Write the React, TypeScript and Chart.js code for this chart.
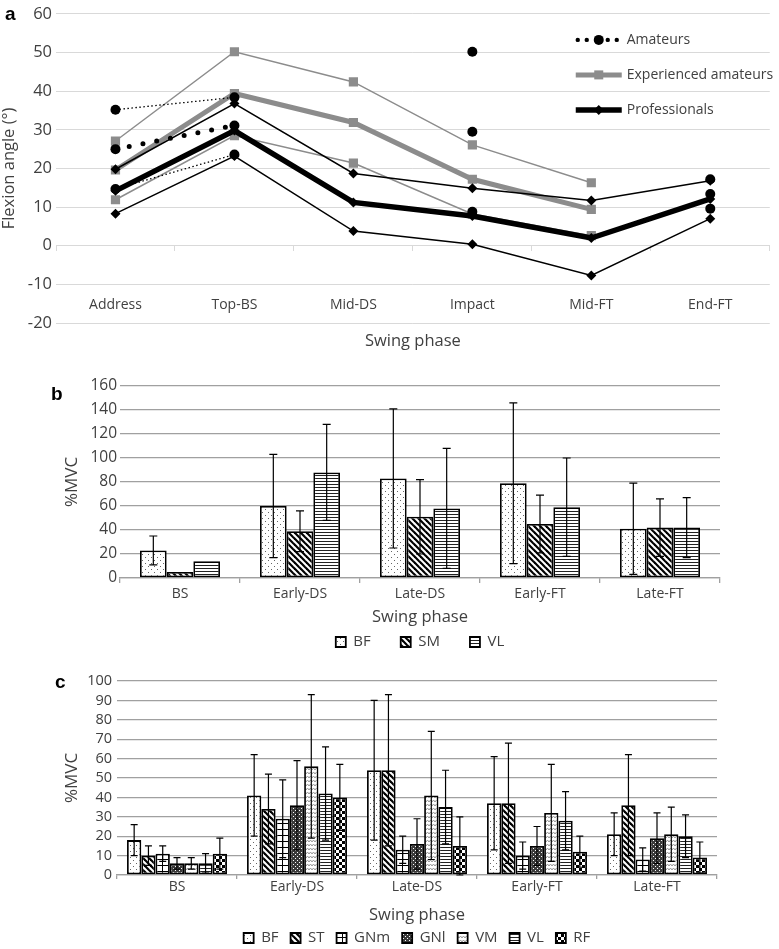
import React, { useEffect, useRef } from 'react';
import { Chart, registerables } from 'chart.js';

Chart.register(...registerables);

const FONT = '"Open Sans", sans-serif';
const TEXT = '#404040';
Chart.defaults.font.family = FONT;
Chart.defaults.color = TEXT;

// ---------- Panel a: knee flexion angle ----------
const phasesA = ['Address', 'Top-BS', 'Mid-DS', 'Impact', 'Mid-FT', 'End-FT'];
const amateurMean = [25, 31.1, null, 29.5, null, 13.4];
const amateurUpper = [35.2, 38.4, null, 50.2, null, 17.2];
const amateurLower = [14.7, 23.6, null, 8.8, null, 9.6];
const proMean = [14.2, 29.8, 11.2, 7.7, 2.0, 12.1];
const proUpper = [19.8, 36.8, 18.7, 14.9, 11.7, 16.8];
const proLower = [8.3, 23.2, 3.8, 0.4, -7.7, 7.0];
const expMean = [19.6, 39.4, 31.9, 17.2, 9.4, null];
const expUpper = [27.1, 50.2, 42.4, 26.1, 16.3, null];
const expLower = [11.9, 28.5, 21.4, 8.2, 2.6, null];
const yTicksA = { min: -20, max: 60, step: 10 };

// ---------- Panel b: %MVC (BF, SM, VL) ----------
const phasesB = ['BS', 'Early-DS', 'Late-DS', 'Early-FT', 'Late-FT'];
const bfB = [23, 60, 83, 79, 41];
const bfSdB = [12, 43, 58, 67, 38];
const smB = [5, 39, 51, 45, 42];
const smSdB = [null, 17, 31, 24, 24];
const vlB = [14, 88, 58, 59, 42];
const vlSdB = [null, 40, 50, 41, 25];
const yTicksB = { min: 0, max: 160, step: 20 };

// ---------- Panel c: %MVC (7 muscles) ----------
const phasesC = ['BS', 'Early-DS', 'Late-DS', 'Early-FT', 'Late-FT'];
const bfC = [18, 41, 54, 37, 21];
const bfSdC = [8, 21, 36, 24, 11];
const stC = [10, 34, 54, 37, 36];
const stSdC = [5, 18, 39, 31, 26];
const gnmC = [11, 29, 13, 10, 8];
const gnmSdC = [4, 20, 7, 7, 6];
const gnlC = [6, 36, 16, 15, 19];
const gnlSdC = [3, 23, 13, 10, 13];
const vmC = [6, 56, 41, 32, 21];
const vmSdC = [3, 37, 33, 25, 14];
const vlC = [6, 42, 35, 28, 20];
const vlSdC = [5, 24, 19, 15, 11];
const rfC = [11, 40, 15, 12, 9];
const rfSdC = [8, 17, 15, 8, 8];
const yTicksC = { min: 0, max: 100, step: 10 };

// ---------- patterns ----------
function makePatterns(ctx: CanvasRenderingContext2D) {
  const mk = (w: number, h: number, draw: (g: CanvasRenderingContext2D) => void) => {
    const c = document.createElement('canvas');
    c.width = w; c.height = h;
    const g = c.getContext('2d')!;
    g.fillStyle = '#fff';
    g.fillRect(0, 0, w, h);
    draw(g);
    return ctx.createPattern(c, 'repeat')!;
  };
  return {
    dots: mk(6, 6, (g) => { g.fillStyle = '#666'; g.fillRect(1, 1, 1, 1); g.fillRect(4, 4, 1, 1); }),
    diag: mk(6, 6, (g) => {
      g.strokeStyle = '#000'; g.lineWidth = 2.2;
      for (let k = -1; k <= 1; k++) { g.beginPath(); g.moveTo(-1, -1 + 6 * k); g.lineTo(7, 7 + 6 * k); g.stroke(); }
    }),
    hlines: mk(4, 3, (g) => { g.fillStyle = '#222'; g.fillRect(0, 0, 4, 1); }),
    grid: mk(6, 6, (g) => { g.fillStyle = '#000'; g.fillRect(0, 0, 6, 1); g.fillRect(0, 0, 1, 6); }),
    dark: mk(4, 4, (g) => { g.fillStyle = '#3a3a3a'; g.fillRect(0, 0, 4, 4); g.fillStyle = '#fff'; g.fillRect(1, 1, 1, 1); g.fillRect(3, 3, 1, 1); }),
    wave: mk(6, 4, (g) => {
      g.strokeStyle = '#999'; g.lineWidth = 1;
      g.beginPath(); g.moveTo(0, 3); g.lineTo(1.5, 1); g.lineTo(3, 3); g.lineTo(4.5, 1); g.lineTo(6, 3); g.stroke();
    }),
    checker: mk(6, 6, (g) => { g.fillStyle = '#000'; g.fillRect(0, 0, 3, 3); g.fillRect(3, 3, 3, 3); }),
  };
}

// ---------- plugins ----------
const errorBarPlugin = {
  id: 'errorBars',
  afterDatasetsDraw(chart: any) {
    const { ctx } = chart;
    const y = chart.scales.y;
    chart.data.datasets.forEach((ds: any, i: number) => {
      const sd = ds.errors;
      if (!sd) return;
      const meta = chart.getDatasetMeta(i);
      meta.data.forEach((el: any, j: number) => {
        const e = sd[j];
        if (e == null) return;
        const v = ds.data[j];
        const yt = y.getPixelForValue(v + e);
        const yb = y.getPixelForValue(Math.max(0, v - e));
        const cap = ds.capHalf || 4;
        ctx.save();
        ctx.strokeStyle = '#000';
        ctx.lineWidth = 1.2;
        ctx.beginPath();
        ctx.moveTo(el.x, yt); ctx.lineTo(el.x, yb);
        ctx.moveTo(el.x - cap, yt); ctx.lineTo(el.x + cap, yt);
        ctx.moveTo(el.x - cap, yb); ctx.lineTo(el.x + cap, yb);
        ctx.stroke();
        ctx.restore();
      });
    });
  },
};

const legendAPlugin = {
  id: 'legendA',
  afterDatasetsDraw(chart: any) {
    const { ctx, chartArea } = chart;
    const x0 = chartArea.right - 194;
    const x1 = x0 + 46;
    const xm = x0 + 23;
    const items = [
      { label: 'Amateurs', ds: 0 },
      { label: 'Experienced amateurs', ds: 6 },
      { label: 'Professionals', ds: 3 },
    ];
    items.forEach((it, i) => {
      const y = chartArea.top + 26 + i * 35;
      const ds = chart.data.datasets[it.ds];
      ctx.save();
      ctx.fillStyle = ds.borderColor;
      ctx.strokeStyle = ds.borderColor;
      if (ds.pointStyle === 'circle') {
        [2, 11, 32, 41].forEach((dx) => { ctx.beginPath(); ctx.arc(x0 + dx, y, 2.2, 0, Math.PI * 2); ctx.fill(); });
        ctx.beginPath(); ctx.arc(xm, y, 5, 0, Math.PI * 2); ctx.fill();
      } else {
        ctx.lineWidth = ds.borderWidth;
        ctx.beginPath(); ctx.moveTo(x0, y); ctx.lineTo(x1, y); ctx.stroke();
        if (ds.pointStyle === 'rect') {
          ctx.fillRect(xm - 4.5, y - 4.5, 9, 9);
        } else {
          ctx.beginPath(); ctx.moveTo(xm, y - 5); ctx.lineTo(xm + 5, y); ctx.lineTo(xm, y + 5); ctx.lineTo(xm - 5, y); ctx.closePath(); ctx.fill();
        }
      }
      ctx.fillStyle = TEXT;
      ctx.font = `14px ${FONT}`;
      ctx.textBaseline = 'middle';
      ctx.textAlign = 'left';
      ctx.fillText(it.label, x1 + 5, y);
      ctx.restore();
    });
  },
};

// ---------- configs ----------
function lineDs(label: string, data: (number | null)[], color: string, width: number, style: string, radius: number, extra: any = {}) {
  return {
    label, data, borderColor: color, backgroundColor: color, borderWidth: width,
    pointStyle: style, pointRadius: radius, pointBackgroundColor: color, pointBorderWidth: 0,
    spanGaps: false, tension: 0, ...extra,
  };
}

function configA() {
  const grey = '#8c8c8c';
  const thinDot = { borderDash: [1.5, 2.5] };
  return {
    type: 'line',
    data: {
      labels: phasesA,
      datasets: [
        lineDs('Amateurs', amateurMean, '#000', 5, 'circle', 5, { borderDash: [0, 14], borderCapStyle: 'round' }),
        lineDs('Amateurs +SD', amateurUpper, '#000', 1.3, 'circle', 5, thinDot),
        lineDs('Amateurs -SD', amateurLower, '#000', 1.3, 'circle', 5, thinDot),
        lineDs('Professionals', proMean, '#000', 5.5, 'rectRot', 5),
        lineDs('Professionals +SD', proUpper, '#000', 1.5, 'rectRot', 5),
        lineDs('Professionals -SD', proLower, '#000', 1.5, 'rectRot', 5),
        lineDs('Experienced amateurs', expMean, grey, 5, 'rect', 6.5),
        lineDs('Experienced amateurs +SD', expUpper, grey, 1.5, 'rect', 6.5),
        lineDs('Experienced amateurs -SD', expLower, grey, 1.5, 'rect', 6.5),
      ],
    },
    options: {
      animation: false,
      responsive: false,
      layout: { padding: { top: 11, right: 3, bottom: 37, left: 0 } },
      plugins: { legend: { display: false }, tooltip: { enabled: false } },
      scales: {
        x: {
          type: 'category',
          position: { y: 0 },
          offset: true,
          grid: { offset: true, drawOnChartArea: false, drawTicks: true, tickLength: 5, color: '#d9d9d9' },
          border: { display: true, color: '#d9d9d9' },
          ticks: { padding: 46, font: { size: 14 }, color: TEXT, maxRotation: 0, autoSkip: false },
          title: { display: true, text: 'Swing phase', font: { size: 16.5 }, color: TEXT, padding: { top: -27.7, bottom: 0 } },
        },
        y: {
          min: yTicksA.min, max: yTicksA.max,
          ticks: { stepSize: yTicksA.step, padding: 4, font: { size: 16.5 }, color: TEXT, autoSkip: false },
          grid: { color: '#d9d9d9', drawTicks: false },
          border: { display: false },
          title: { display: true, text: 'Flexion angle (°)', font: { size: 16.5 }, color: TEXT, padding: { top: -1, bottom: 0 } },
          afterFit: (s: any) => { s.width = 56; },
        },
      },
    },
    plugins: [legendAPlugin],
  };
}

function barDs(label: string, data: number[], errors: (number | null)[], bg: any, capHalf: number) {
  return { label, data, errors, capHalf, backgroundColor: bg, borderColor: '#000', borderWidth: 1.8, borderSkipped: false };
}

function barOptions(o: any) {
  const gridColor = '#a0a0a0';
  return {
    animation: false,
    responsive: false,
    layout: { padding: o.padding },
    datasets: { bar: { categoryPercentage: o.catPct, barPercentage: 1 } },
    plugins: {
      legend: {
        position: 'bottom', fullSize: false,
        labels: { boxWidth: 10, boxHeight: 10, padding: o.legendPad, font: { size: 15 }, color: TEXT },
      },
      tooltip: { enabled: false },
    },
    scales: {
      x: {
        grid: { offset: true, drawOnChartArea: false, drawTicks: true, tickLength: o.tickLen, color: gridColor, lineWidth: 1.3 },
        border: { display: true, color: gridColor, width: 1.3 },
        ticks: { padding: o.tickPad, font: { size: 14 }, color: TEXT, maxRotation: 0, autoSkip: false },
        title: { display: true, text: 'Swing phase', font: { size: 16.5 }, color: TEXT, padding: o.titlePad },
      },
      y: {
        min: o.y.min, max: o.y.max,
        ticks: { stepSize: o.y.step, padding: o.yPad, font: { size: o.yFont }, color: TEXT, autoSkip: false },
        grid: { color: gridColor, lineWidth: 1.3, drawTicks: false },
        border: { display: false },
        title: { display: true, text: '%MVC', font: { size: 17 }, color: TEXT, padding: { top: 62, bottom: 0 } },
        afterFit: (s: any) => { s.width = o.yWidth; },
      },
    },
  };
}

function configB(ctx: CanvasRenderingContext2D) {
  const p = makePatterns(ctx);
  return {
    type: 'bar',
    data: {
      labels: phasesB,
      datasets: [
        barDs('BF', bfB, bfSdB, p.dots, 4),
        barDs('SM', smB, smSdB, p.diag, 4),
        barDs('VL', vlB, vlSdB, p.hlines, 4),
      ],
    },
    options: barOptions({
      padding: { top: 16, right: 59, bottom: 0.5, left: 0 },
      catPct: 0.667, legendPad: 30, tickLen: 5, tickPad: 3,
      titlePad: { top: 1.3, bottom: -22.4 }, y: yTicksB, yPad: 3, yFont: 15.5, yWidth: 120,
    }),
    plugins: [errorBarPlugin],
  };
}

function configC(ctx: CanvasRenderingContext2D) {
  const p = makePatterns(ctx);
  return {
    type: 'bar',
    data: {
      labels: phasesC,
      datasets: [
        barDs('BF', bfC, bfSdC, p.dots, 3.5),
        barDs('ST', stC, stSdC, p.diag, 3.5),
        barDs('GNm', gnmC, gnmSdC, p.grid, 3.5),
        barDs('GNl', gnlC, gnlSdC, p.dark, 3.5),
        barDs('VM', vmC, vmSdC, p.wave, 3.5),
        barDs('VL', vlC, vlSdC, p.hlines, 3.5),
        barDs('RF', rfC, rfSdC, p.checker, 3.5),
      ],
    },
    options: barOptions({
      padding: { top: 26, right: 62, bottom: 0.5, left: 0 },
      catPct: 0.833, legendPad: 12, tickLen: 4, tickPad: 0,
      titlePad: { top: 9.3, bottom: -6.4 }, y: yTicksC, yPad: 5, yFont: 14.5, yWidth: 117,
    }),
    plugins: [errorBarPlugin],
  };
}

function ChartCanvas({ top, height, build }: { top: number; height: number; build: (ctx: CanvasRenderingContext2D) => any }) {
  const ref = useRef<HTMLCanvasElement>(null);
  useEffect(() => {
    const canvas = ref.current!;
    const ctx = canvas.getContext('2d')!;
    const chart = new Chart(canvas, build(ctx));
    return () => chart.destroy();
  }, []);
  return (
    <canvas
      ref={ref}
      width={779}
      height={height}
      style={{ position: 'absolute', left: 0, top, width: 779, height, display: 'block' }}
    />
  );
}

const panelLabel: React.CSSProperties = {
  position: 'absolute',
  font: 'bold 19px "Liberation Sans", Arial, sans-serif',
  lineHeight: '19px',
  color: '#000',
};

export default function App() {
  return (
    <div style={{ position: 'absolute', left: 0, top: 0, width: 779, height: 949, overflow: 'hidden', background: '#fff' }}>
      <ChartCanvas top={0} height={360} build={() => configA()} />
      <ChartCanvas top={370} height={290} build={configB} />
      <ChartCanvas top={655} height={301} build={configC} />
      <div style={{ ...panelLabel, left: 5, top: 4 }}>a</div>
      <div style={{ ...panelLabel, left: 51, top: 384 }}>b</div>
      <div style={{ ...panelLabel, left: 55, top: 672 }}>c</div>
    </div>
  );
}
